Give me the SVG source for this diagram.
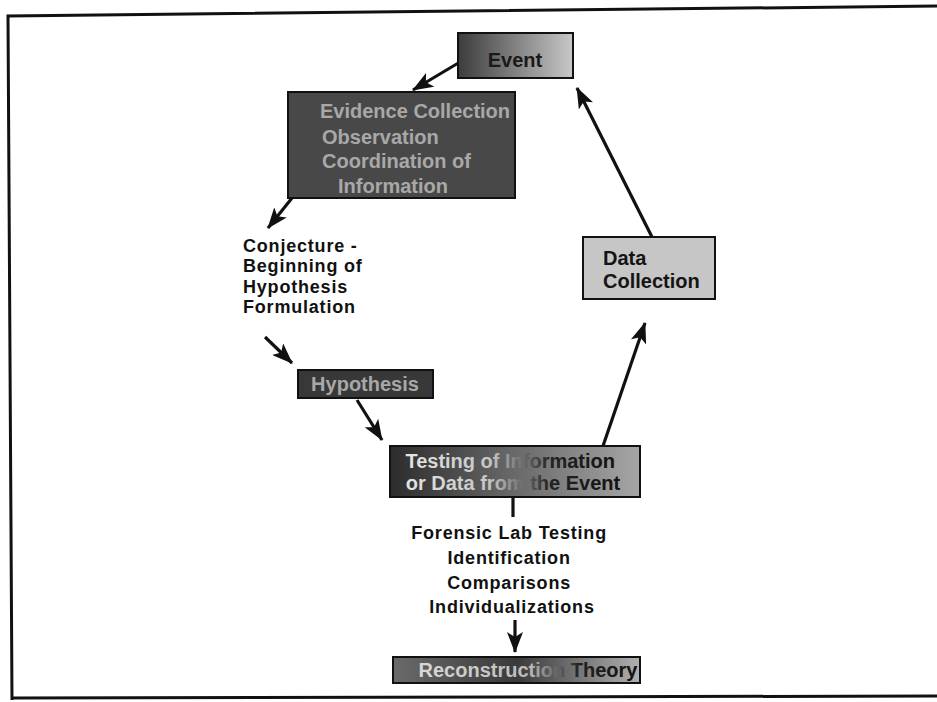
<svg xmlns="http://www.w3.org/2000/svg" width="937" height="702" viewBox="0 0 937 702">
  <style>
    .frame { fill: none; stroke: #111; stroke-width: 3; }
    .box { stroke: #111; stroke-width: 2; }
    .conn { fill: none; stroke: #111; stroke-width: 3.2; }
    .bt { font-family: "Liberation Sans", Arial, sans-serif; font-weight: bold; font-size: 20px; }
    .lt { font-family: "Liberation Sans", Arial, sans-serif; font-weight: bold; font-size: 18px; fill: #111; letter-spacing: 0.8px; }
  </style>
  <defs>
    <marker id="ah" markerUnits="userSpaceOnUse" markerWidth="21" markerHeight="16" refX="20" refY="8" orient="auto">
      <path d="M0,0 L21,8 L0,16 L5,8 z" fill="#111"/>
    </marker>
    <linearGradient id="gEvent" gradientUnits="userSpaceOnUse" x1="458" y1="0" x2="573" y2="0">
      <stop offset="0" stop-color="#3c3c3c"/>
      <stop offset="1" stop-color="#c8c8c8"/>
    </linearGradient>
    <linearGradient id="gTest" gradientUnits="userSpaceOnUse" x1="390" y1="0" x2="640" y2="0">
      <stop offset="0" stop-color="#2c2c2c"/>
      <stop offset="1" stop-color="#a6a6a6"/>
    </linearGradient>
    <linearGradient id="gTestTxt" gradientUnits="userSpaceOnUse" x1="400" y1="0" x2="630" y2="0">
      <stop offset="0" stop-color="#e6e6e6"/>
      <stop offset="0.4" stop-color="#c4c4c4"/>
      <stop offset="0.65" stop-color="#222"/>
      <stop offset="1" stop-color="#111"/>
    </linearGradient>
    <linearGradient id="gRec" gradientUnits="userSpaceOnUse" x1="393" y1="0" x2="640" y2="0">
      <stop offset="0" stop-color="#6a6a6a"/>
      <stop offset="0.5" stop-color="#3a3a3a"/>
      <stop offset="1" stop-color="#b0b0b0"/>
    </linearGradient>
    <linearGradient id="gRecTxt" gradientUnits="userSpaceOnUse" x1="420" y1="0" x2="640" y2="0">
      <stop offset="0" stop-color="#d8d8d8"/>
      <stop offset="0.5" stop-color="#bbbbbb"/>
      <stop offset="0.72" stop-color="#222"/>
      <stop offset="1" stop-color="#111"/>
    </linearGradient>
  </defs>

  <rect x="0" y="0" width="937" height="702" fill="#fff"/>
  <path class="frame" d="M937,6 L8,16 L12,700 M12,698 L937,696"/>

  <g id="connectors">
    <path class="conn" d="M460,62 L413,90" marker-end="url(#ah)"/>
    <path class="conn" d="M292,198 L268,228" marker-end="url(#ah)"/>
    <path class="conn" d="M265,337 L292,363" marker-end="url(#ah)"/>
    <path class="conn" d="M357,400 L382,440" marker-end="url(#ah)"/>
    <path class="conn" d="M513,497 L513,517"/>
    <path class="conn" d="M515,620 L515,652" marker-end="url(#ah)"/>
    <path class="conn" d="M603,446 L645,323" marker-end="url(#ah)"/>
    <path class="conn" d="M652,237 L577,88" marker-end="url(#ah)"/>
  </g>

  <g id="event">
    <rect class="box" x="458" y="33" width="115" height="45" fill="url(#gEvent)"/>
    <text class="bt" x="515" y="67" text-anchor="middle" fill="#1a1a1a">Event</text>
  </g>

  <g id="evidence">
    <rect class="box" x="288" y="92" width="227" height="106" fill="#484848"/>
    <text class="bt" fill="#a8a8a8">
      <tspan x="320" y="118">Evidence Collection</tspan>
      <tspan x="322" y="144">Observation</tspan>
      <tspan x="322" y="168">Coordination of</tspan>
      <tspan x="338" y="193">Information</tspan>
    </text>
  </g>

  <g id="conjecture">
    <text class="lt">
      <tspan x="243" y="252">Conjecture -</tspan>
      <tspan x="243" y="272">Beginning of</tspan>
      <tspan x="243" y="293">Hypothesis</tspan>
      <tspan x="243" y="313">Formulation</tspan>
    </text>
  </g>

  <g id="hypothesis">
    <rect class="box" x="298" y="370" width="135" height="28" fill="#383838"/>
    <text class="bt" x="365" y="391" text-anchor="middle" fill="#a8a8a8">Hypothesis</text>
  </g>

  <g id="testing">
    <rect class="box" x="390" y="446" width="250" height="51" fill="url(#gTest)"/>
    <text class="bt" text-anchor="middle" fill="url(#gTestTxt)">
      <tspan x="513" y="468">Testing of Information</tspan>
      <tspan x="513" y="490">or Data from the Event</tspan>
    </text>
  </g>

  <g id="forensic">
    <text class="lt" text-anchor="middle">
      <tspan x="512" y="539">Forensic Lab Testing</tspan>
      <tspan x="512" y="564">Identification</tspan>
      <tspan x="512" y="589">Comparisons</tspan>
      <tspan x="512" y="613">Individualizations</tspan>
    </text>
  </g>

  <g id="reconstruction">
    <rect class="box" x="393" y="657" width="247" height="26" fill="url(#gRec)"/>
    <text class="bt" x="528" y="677" text-anchor="middle" fill="url(#gRecTxt)">Reconstruction Theory</text>
  </g>

  <g id="datacollection">
    <rect class="box" x="583" y="237" width="132" height="62" fill="#c6c6c6"/>
    <text class="bt" fill="#141414">
      <tspan x="603" y="265">Data</tspan>
      <tspan x="603" y="288">Collection</tspan>
    </text>
  </g>
</svg>
